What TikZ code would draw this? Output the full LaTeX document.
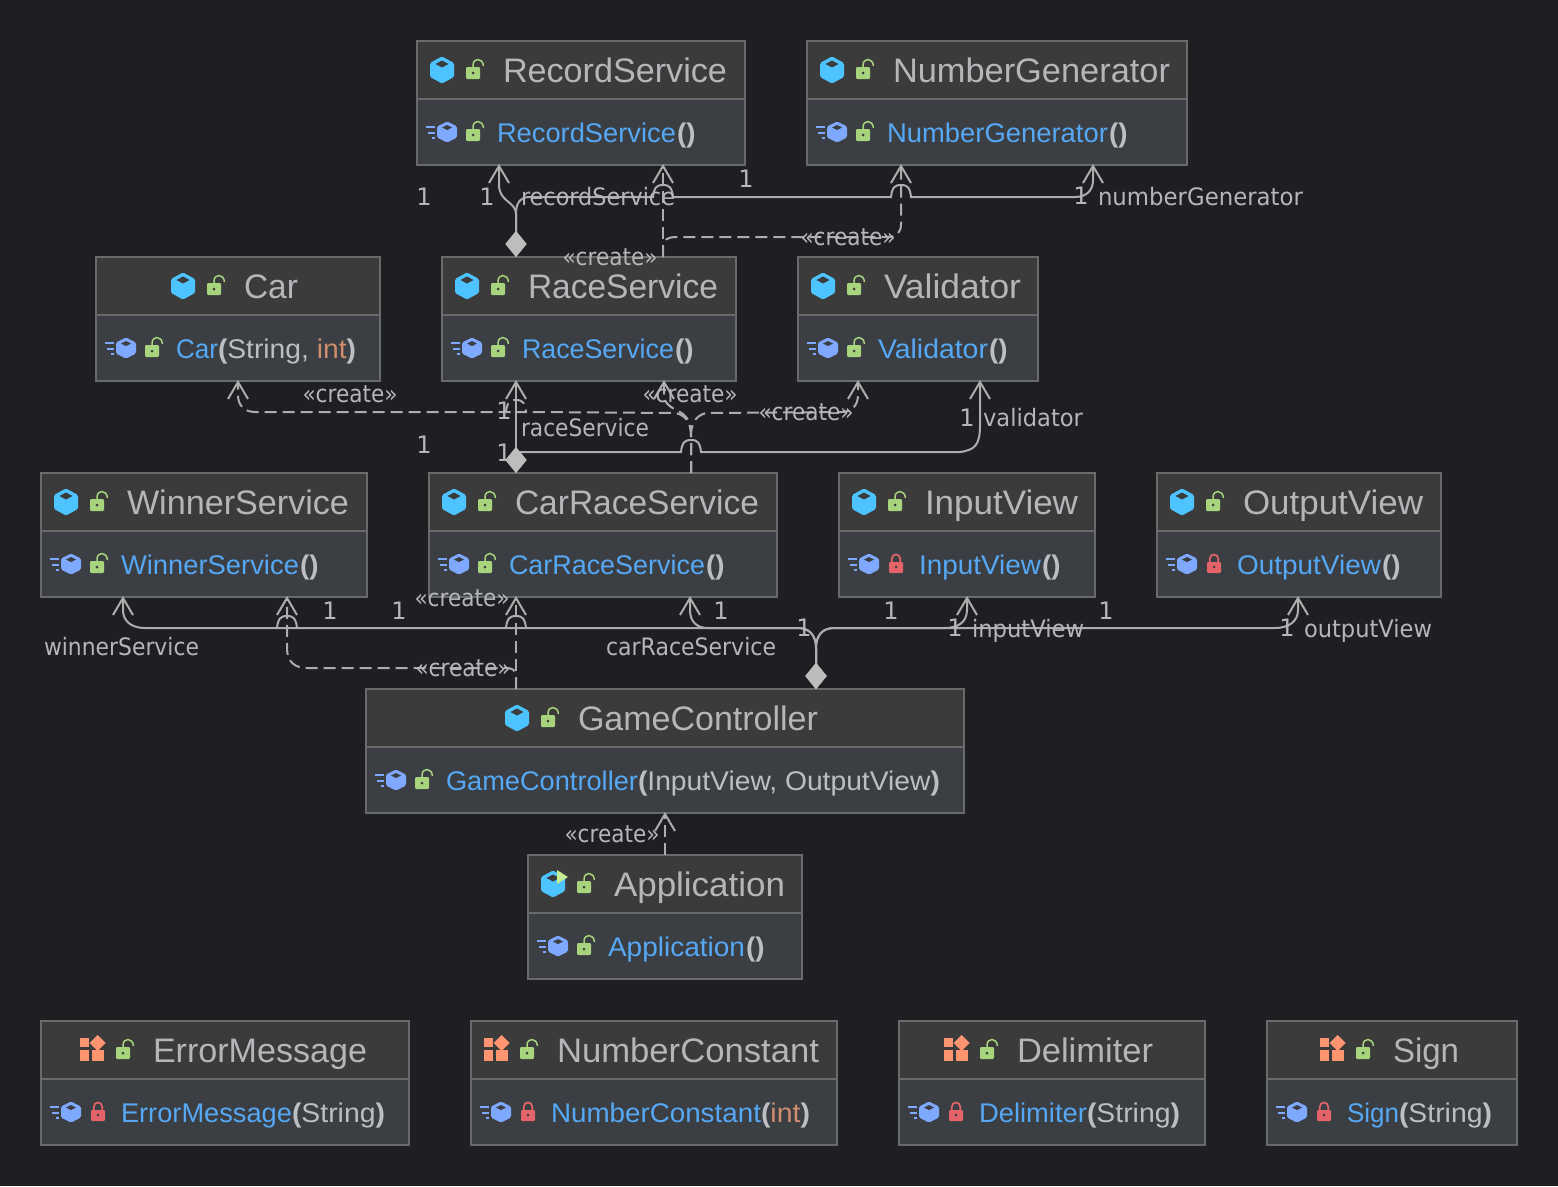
\documentclass[tikz,border=0pt]{standalone}
\usepackage{fontspec}
\usepackage{graphicx}
\setmainfont{Liberation Sans}
\newfontfamily\lblfont{DejaVu Sans}
\usetikzlibrary{arrows.meta}
\definecolor{bgc}{HTML}{1E1F22}
\definecolor{hdrc}{HTML}{3C3B3B}
\definecolor{bodyc}{HTML}{3B3F43}
\definecolor{edgec}{HTML}{6A6A6A}
\definecolor{titlec}{HTML}{B5B6BA}
\definecolor{methc}{HTML}{56A8F5}
\definecolor{argc}{HTML}{BCBEC4}
\definecolor{intc}{HTML}{CF8E6D}
\definecolor{linec}{HTML}{ADADAD}
\definecolor{diac}{HTML}{BDBDBD}
\definecolor{cubec}{HTML}{4DC4FF}
\definecolor{ctorc}{HTML}{7FA8FF}
\definecolor{greenc}{HTML}{A8D47E}
\definecolor{redc}{HTML}{E5646A}
\definecolor{enumc}{HTML}{FF9470}
\definecolor{playc}{HTML}{C6EC94}
\pgfdeclarearrow{
  name=OpenVee,
  setup code={
    \pgfarrowssettipend{0pt}
    \pgfarrowssetlineend{-1pt}
    \pgfarrowssetvisualbackend{-10pt}
    \pgfarrowssetbackend{-17pt}
    \pgfarrowshullpoint{-17pt}{10pt}
    \pgfarrowshullpoint{-17pt}{-10pt}
    \pgfarrowshullpoint{0pt}{0pt}
  },
  drawing code={
    \pgfsetdash{}{0pt}
    \pgfpathmoveto{\pgfqpoint{-17pt}{10pt}}
    \pgfpathlineto{\pgfqpoint{0pt}{0pt}}
    \pgfpathlineto{\pgfqpoint{-17pt}{-10pt}}
    \pgfusepathqstroke
  }
}
\tikzset{
  classbox/.style={draw=edgec,fill=bodyc,line width=1.5pt,inner sep=0pt,outer sep=0pt},
  titletext/.style={text=titlec,font=\fontsize{34}{36}\selectfont,anchor=base west,inner sep=0pt,outer sep=0pt},
  methtext/.style={text=argc,font=\fontsize{27}{30}\selectfont,anchor=base west,inner sep=0pt,outer sep=0pt},
  lbl/.style={text=titlec,font=\lblfont\fontsize{24}{28}\selectfont,inner sep=0pt,outer sep=0pt},
  assoc/.style={draw=linec,line width=2pt,-{OpenVee}},
  owned/.style={draw=linec,line width=2pt,{Diamond[length=26pt,width=21pt,line width=0pt,fill=diac,color=diac]}-{OpenVee}},
  dep/.style={draw=linec,line width=2pt,dash pattern=on 12pt off 6pt,-{OpenVee}},
}
\newcommand{\tw}[2]{\resizebox{#1pt}{\height}{#2}}
\newcommand{\hexa}[3]{%
  (0,-#2) -- (#1,-#3) -- (#1,#3) -- (0,#2) -- (-#1,#3) -- (-#1,-#3) -- cycle}
\newcommand{\iconcube}[2]{\begin{scope}[shift={(#1,#2)}]
  \fill[cubec,rounded corners=1.5pt] \hexa{12}{13.5}{7};
  \fill[hdrc] (0,-9.5) -- (6.5,-6) -- (0,-2.5) -- (-6.5,-6) -- cycle;
\end{scope}}
\newcommand{\iconapp}[2]{\begin{scope}[shift={(#1,#2)}]
  \fill[cubec,rounded corners=1.5pt] \hexa{12}{13.5}{7};
  \fill[hdrc] (0,-9.5) -- (6.5,-6) -- (0,-2.5) -- (-6.5,-6) -- cycle;
  \fill[playc] (4,-14) -- (15,-7) -- (4,0) -- cycle;
\end{scope}}
\newcommand{\iconenum}[2]{\begin{scope}[shift={(#1,#2)}]
  \fill[enumc] (-12,-12) rectangle (-3,-3);
  \fill[enumc] (5.7,-15) -- (13.7,-7) -- (5.7,1) -- (-2.3,-7) -- cycle;
  \fill[enumc] (-12,0) rectangle (-3,11);
  \fill[enumc] (0,0) rectangle (12,11);
\end{scope}}
\newcommand{\iconctor}[2]{\begin{scope}[shift={(#1,#2)}]
  \fill[ctorc,rounded corners=1.5pt] \hexa{10}{10.5}{5.5};
  \fill[bodyc] (0,-7) -- (5,-4.5) -- (0,-2) -- (-5,-4.5) -- cycle;
  \draw[ctorc,line width=2pt] (-21,-5) -- (-12,-5) (-19,0.5) -- (-12,0.5) (-15,5.5) -- (-12,5.5);
\end{scope}}
\newcommand{\lockG}[3]{\begin{scope}[shift={(#1+1,#2)}]
  \fill[greenc,rounded corners=1.2pt] (-7,-3) rectangle (7,9);
  \draw[greenc,line width=1.5pt] (0,-3) -- (0,-5) .. controls (0,-9) and (3,-10.5) .. (5,-10.5) .. controls (8,-10.5) and (10,-8) .. (10.5,-4);
  \fill[#3] (0,3) circle (1.5);
\end{scope}}
\newcommand{\lockR}[3]{\begin{scope}[shift={(#1+2,#2)}]
  \fill[redc,rounded corners=1.2pt] (-7,-2) rectangle (7,9);
  \draw[redc,line width=1.7pt] (-4.3,-2) -- (-4.3,-5) .. controls (-4.3,-8) and (-2,-9.5) .. (0,-9.5) .. controls (2,-9.5) and (4.3,-8) .. (4.3,-5) -- (4.3,-2);
  \fill[#3] (0,3) circle (1.5);
\end{scope}}
\newcommand{\mth}[2]{\tw{#1}{\color{methc}#2}}
\newcommand{\ints}{{\color{intc}int}}
\newcommand{\nopar}{\hspace{1pt}\tw{18.5}{\textbf{()}}}
% name, x1, x2, y1, icon x, icon macro, title, lock macro, method text
\newcommand{\classnode}[9]{%
  \pgfmathsetmacro{\cw}{#3-#2}
  \node[classbox,minimum width=\cw pt,minimum height=124pt,anchor=north west] (#1) at (#2,#4) {};
  \fill[hdrc] (#2+1,#4+1) rectangle (#3-1,#4+58);
  \draw[edgec,line width=2pt] (#2+1,#4+58) -- (#3-1,#4+58);
  #6{#5}{#4+29}
  \lockG{#5+30}{#4+29}{hdrc}
  \node[titletext] (#1-t) at (#5+61,#4+41) {#7};
  \iconctor{#2+30}{#4+91}
  #8{#2+55}{#4+91}{bodyc}
  \node[methtext] (#1-m) at (#2+80,#4+101) {#9};
}
\newcounter{lblc}
\newcommand{\lab}[3]{\stepcounter{lblc}\node[lbl] (lab\thelblc) at (#1,#2+3) {\strut #3};}
\newcommand{\labw}[4]{\stepcounter{lblc}\node[lbl,anchor=west] (lab\thelblc) at (#1,#2+3) {\tw{#3}{\strut #4}};}
\newcommand{\crt}[2]{\stepcounter{lblc}\node[lbl] (lab\thelblc) at (#1,#2+3) {\tw{95}{\strut «create»}};}
\newcommand{\jmp}[2]{-- ({#1-10},#2) .. controls ({#1-9},{#2-9}) and ({#1-7},{#2-12}) .. (#1,{#2-12}) .. controls ({#1+7},{#2-12}) and ({#1+9},{#2-9}) .. ({#1+10},#2)}
\begin{document}
\begin{tikzpicture}[x=1pt,y=-1pt]
\fill[bgc] (0,0) rectangle (1558,1186);
\useasboundingbox (0,0) rectangle (1558,1186);

\classnode{rec}{417}{745}{41}{442}{\iconcube}{\tw{224}{RecordService}}{\lockG}{\mth{179}{RecordService}\nopar}
\classnode{gen}{807}{1187}{41}{832}{\iconcube}{\tw{277}{NumberGenerator}}{\lockG}{\mth{221}{NumberGenerator}\nopar}
\classnode{car}{96}{380}{257}{183}{\iconcube}{\tw{54}{Car}}{\lockG}{\mth{42}{Car}\tw{138}{\textbf{(}String, \ints\textbf{)}}}
\classnode{race}{442}{736}{257}{467}{\iconcube}{\tw{190}{RaceService}}{\lockG}{\mth{152}{RaceService}\nopar}
\classnode{val}{798}{1038}{257}{823}{\iconcube}{\tw{137}{Validator}}{\lockG}{\mth{110}{Validator}\nopar}
\classnode{win}{41}{367}{473}{66}{\iconcube}{\tw{222}{WinnerService}}{\lockG}{\mth{178}{WinnerService}\nopar}
\classnode{crs}{429}{777}{473}{454}{\iconcube}{\tw{244}{CarRaceService}}{\lockG}{\mth{196}{CarRaceService}\nopar}
\classnode{inp}{839}{1095}{473}{864}{\iconcube}{\tw{153}{InputView}}{\lockR}{\mth{122}{InputView}\nopar}
\classnode{out}{1157}{1441}{473}{1182}{\iconcube}{\tw{180}{OutputView}}{\lockR}{\mth{144}{OutputView}\nopar}
\classnode{game}{366}{964}{689}{517}{\iconcube}{\tw{240}{GameController}}{\lockG}{\mth{192}{GameController}\tw{302}{\textbf{(}InputView, OutputView\textbf{)}}}
\classnode{app}{528}{802}{855}{553}{\iconapp}{\tw{171}{Application}}{\lockG}{\mth{137}{Application}\nopar}
\classnode{err}{41}{409}{1021}{92}{\iconenum}{\tw{214}{ErrorMessage}}{\lockR}{\mth{171}{ErrorMessage}\tw{93}{\textbf{(}String\textbf{)}}}
\classnode{num}{471}{837}{1021}{496}{\iconenum}{\tw{262}{NumberConstant}}{\lockR}{\mth{210}{NumberConstant}\tw{49}{\textbf{(}\ints\textbf{)}}}
\classnode{del}{899}{1205}{1021}{956}{\iconenum}{\tw{136}{Delimiter}}{\lockR}{\mth{108}{Delimiter}\tw{93}{\textbf{(}String\textbf{)}}}
\classnode{sign}{1267}{1517}{1021}{1332}{\iconenum}{\tw{66}{Sign}}{\lockR}{\mth{52}{Sign}\tw{93}{\textbf{(}String\textbf{)}}}

% RaceService associations
\draw[owned] ([xshift=74pt]race.north west) -- (516,214) .. controls (516,202) and (500,202) .. (499,186) -- ([xshift=82pt,yshift=-1pt]rec.south west);
\draw[owned] ([xshift=74pt]race.north west) -- (516,214) .. controls (516,203) and (520,197) .. (530,197) \jmp{663}{197} \jmp{901}{197} -- (1075,197) .. controls (1087,197) and (1093,190) .. (1093,180) -- ([xshift=286pt,yshift=-1pt]gen.south west);
% RaceService creates
\draw[dep] ([xshift=221pt]race.north west) -- ([xshift=246pt,yshift=-1pt]rec.south west);
\draw[dep] ([xshift=221pt]race.north west) -- (663,247) .. controls (663,240) and (668,237) .. (675,237) -- (888,237) .. controls (897,237) and (901,232) .. (901,224) -- ([xshift=94pt,yshift=-1pt]gen.south west);

% CarRaceService associations
\draw[owned] ([xshift=87pt]crs.north west) -- ([xshift=74pt,yshift=-1pt]race.south west);
\draw[owned] ([xshift=87pt]crs.north west) -- (516,452) \jmp{691}{452} -- (960,452) .. controls (975,450) and (980,445) .. (980,425) -- ([xshift=182pt,yshift=-1pt]val.south west);
% CarRaceService creates
\draw[dep] ([xshift=262pt]crs.north west) -- (691,436) .. controls (691,426) and (688,416) .. (676,413) -- (528,412) \jmp{516}{412} -- (255,412) .. controls (244,412) and (238,405) .. (238,395) -- ([xshift=142pt,yshift=-1pt]car.south west);
\draw[dep] ([xshift=262pt]crs.north west) -- (691,436) .. controls (691,426) and (690,418) .. (680,412) .. controls (672,408) and (664,404) .. (664,395) -- ([xshift=222pt,yshift=-1pt]race.south west);
\draw[dep] ([xshift=262pt]crs.north west) -- (691,436) .. controls (691,426) and (694,416) .. (706,413) -- (842,412) .. controls (852,412) and (858,405) .. (858,395) -- ([xshift=60pt,yshift=-1pt]val.south west);

% GameController associations
\draw[owned] ([xshift=450pt]game.north west) -- (816,648) .. controls (816,636) and (810,628) .. (798,628) \jmp{516}{628} \jmp{287}{628} -- (145,628) .. controls (130,628) and (123,620) .. (123,610) -- ([xshift=82pt,yshift=-1pt]win.south west);
\draw[owned] ([xshift=450pt]game.north west) -- (816,648) .. controls (816,636) and (810,628) .. (798,628) -- (708,628) .. controls (697,628) and (690,622) .. (690,610) -- ([xshift=261pt,yshift=-1pt]crs.south west);
\draw[owned] ([xshift=450pt]game.north west) -- (816,648) .. controls (816,636) and (822,628) .. (834,628) -- (945,628) .. controls (958,628) and (967,622) .. (967,610) -- ([xshift=128pt,yshift=-1pt]inp.south west);
\draw[owned] ([xshift=450pt]game.north west) -- (816,648) .. controls (816,636) and (822,628) .. (834,628) -- (1275,628) .. controls (1288,628) and (1298,622) .. (1298,610) -- ([xshift=141pt,yshift=-1pt]out.south west);
% GameController creates
\draw[dep] ([xshift=150pt]game.north west) -- ([xshift=87pt,yshift=-1pt]crs.south west);
\draw[dep] ([xshift=150pt]game.north west) -- (516,676) .. controls (516,670) and (512,668) .. (506,668) -- (307,668) .. controls (295,668) and (287,662) .. (287,648) -- ([xshift=246pt,yshift=-1pt]win.south west);
% Application creates
\draw[dep] ([xshift=137pt]app.north west) -- ([xshift=299pt,yshift=-1pt]game.south west);

\lab{424}{197}{1}
\lab{487}{197}{1}
\labw{521}{197}{154}{recordService}
\lab{746}{179}{1}
\lab{1081}{196}{1}
\labw{1098}{197}{205}{numberGenerator}
\crt{610}{257}
\crt{848}{237}
\crt{350}{394}
\crt{690}{394}
\crt{806}{412}
\lab{504}{411}{1}
\labw{521}{428}{128}{raceService}
\lab{424}{445}{1}
\lab{504}{453}{1}
\lab{967}{418}{1}
\labw{983}{418}{100}{validator}
\lab{330}{611}{1}
\lab{399}{611}{1}
\crt{462}{598}
\labw{44}{647}{155}{winnerService}
\crt{463}{668}
\labw{606}{647}{170}{carRaceService}
\lab{721}{611}{1}
\lab{804}{628}{1}
\lab{891}{611}{1}
\lab{955}{628}{1}
\labw{972}{629}{112}{inputView}
\lab{1106}{611}{1}
\lab{1287}{628}{1}
\labw{1304}{629}{128}{outputView}
\crt{612}{834}
\end{tikzpicture}
\end{document}
